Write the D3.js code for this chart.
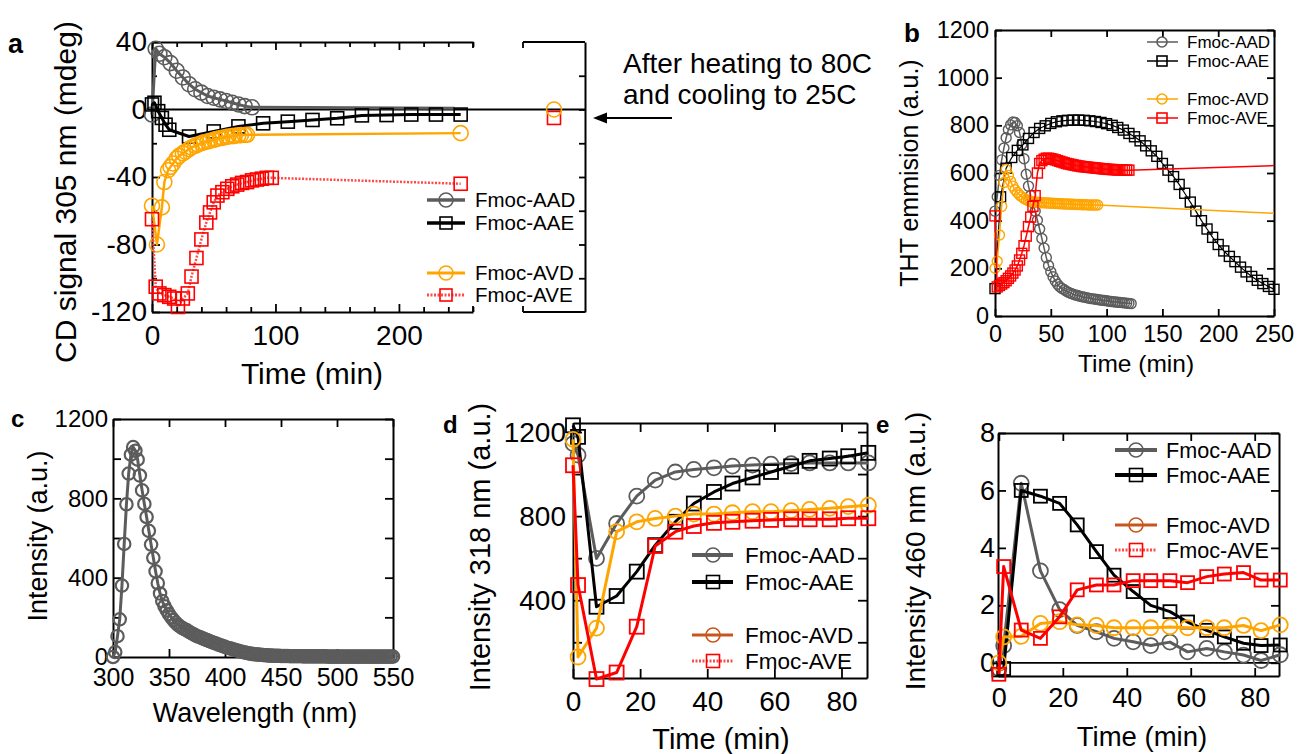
<!DOCTYPE html>
<html>
<head>
<meta charset="utf-8">
<script src="https://cdn.jsdelivr.net/npm/d3@7"></script>
<style>
  html, body { margin: 0; padding: 0; background: #fff; }
  svg { display: block; }
</style>
</head>
<body>
<svg id="fig" width="1297" height="754"></svg>
<script>
// ---------------- data ----------------
// (a) CD signal at 305 nm (mdeg) vs time (min)
const aadTimeA = [0, 3, 6, 10, 15, 20, 25, 30, 35, 40, 45, 50, 55, 60, 65, 70, 75, 81];
const aadCdA   = [-3, 36, 33, 31, 27.5, 23, 19, 15, 12, 10, 8, 7, 6, 5, 4, 3, 2, 1.3];
const aadTailA = [[245, 0.7]];
const aaeTimeA = [0, 2, 5, 8, 11, 14, 30, 50, 70, 90, 110, 130, 150, 170, 190, 210, 230, 250];
const aaeCdA   = [3, 4, -1, -5, -9, -12, -16, -13, -10, -8.2, -7.2, -6.2, -5.2, -3.5, -3.3, -3, -3, -3];
const avdTimeA = [0, 4, 8, 10, 13, 15, 17, 20, 22, 25, 27, 30, 32, 35, 37, 40, 42, 45, 47, 50, 52, 55, 57, 60, 62, 65, 67, 70, 72, 75, 77, 250];
const avdCdA   = [-57, -80, -58, -43, -36, -34, -32, -29, -27.5, -26, -25, -23.5, -22.5, -21.5, -20.8, -20, -19.5, -19, -18.5, -18, -17.5, -17, -16.8, -16.3, -16, -15.8, -15.6, -15.3, -15.2, -15.1, -15, -14];
const aveTimeA = [0, 3, 6, 10, 14, 18, 21, 25, 29, 32, 36, 40, 44, 47, 50, 53, 57, 61, 65, 69, 73, 77, 81, 85, 89, 93, 97, 250];
const aveCdA   = [-65, -105, -109, -110, -111, -112, -117, -112, -109, -99, -88, -77, -67, -61, -55, -51, -49, -47, -45.5, -44.5, -43.5, -43, -42, -41.5, -41, -40.5, -40.5, -44];
// after heating to 80C and cooling to 25C
const avdAfterA = 0;
const aveAfterA = -5;

// (b) ThT emission (a.u.) vs time (min)
const aadTimeB = d3.range(0, 123, 2);
const aadThtB = [440, 500, 590, 655, 705, 748, 782, 802, 814, 812, 798, 770, 720, 660, 595, 545, 505, 475, 440, 402,
  365, 325, 285, 245, 212, 186, 165, 147, 133, 123, 116, 110, 104, 99, 95, 91, 88, 86, 83, 81,
  79, 77, 75, 73, 72, 70, 69, 67, 66, 65, 64, 62, 61, 60, 59, 58, 57, 56, 55, 54, 53, 52];
const aaeTimeB = d3.range(0, 251, 5);
const aaeThtB = [115, 500, 620, 665, 695, 718, 745, 770, 787, 798, 808, 815, 819, 821, 822, 822, 821, 819, 816, 812,
  807, 800, 791, 780, 766, 752, 735, 714, 693, 670, 640, 612, 585, 552, 515, 478, 440, 400, 365, 330,
  300, 273, 250, 228, 205, 185, 166, 150, 136, 124, 112];
const avdTimeB = d3.range(0, 93, 2);
const avdThtB = [200, 230, 340, 460, 560, 615, 590, 565, 545, 530, 518, 508, 500, 493, 488, 484, 481, 479, 478, 477,
  476, 475, 475, 474, 474, 473, 473, 472, 472, 471, 471, 470, 470, 470, 469, 469, 468, 468, 468, 467,
  467, 467, 466, 466, 466, 466, 466];
const avdTailB = [[250, 431]];
const aveTimeB = d3.range(0, 121, 2);
const aveThtB = [420, 122, 128, 134, 140, 148, 158, 168, 180, 193, 210, 235, 263, 295, 335, 375, 415, 460, 505, 600,
  640, 652, 658, 662, 662, 660, 658, 655, 652, 649, 646, 643, 640, 638, 636, 634, 632, 630, 629, 627,
  626, 625, 624, 623, 622, 621, 620, 619, 618, 617, 616, 615, 615, 614, 614, 613, 613, 613, 612, 612, 612];
const aveTailB = [[250, 631]];

// (c) Fmoc-AAD emission spectrum, sampled every 2 nm
const wavelengthC = d3.range(300, 551, 2);
const intensityC = [0, 25, 105, 190, 360, 570, 770, 925, 1020, 1058, 1040, 995, 915, 840, 772, 706, 636, 567, 500, 432,
  372, 320, 282, 256, 235, 216, 200, 186, 173, 162, 153, 146, 140, 134, 127, 120, 114, 108, 103, 99,
  94, 89, 85, 80, 76, 72, 68, 63, 59, 55, 51, 47, 44, 41, 38, 34, 31, 28, 25, 22,
  20, 17, 16, 14, 13, 12, 11, 10, 9, 8, 7,
  7, 6, 6, 6, 5, 5, 5, 5, 4, 4, 4, 4, 4, 4, 3, 3, 3, 3, 3, 3, 3, 3, 3, 3, 3,
  2, 2, 2, 2, 2, 2, 2, 2, 2, 2, 2, 2, 2, 2, 2, 2, 2, 2, 2, 2, 2, 2, 2, 2, 2, 2, 2, 2, 2, 2];

// (d) intensity at 318 nm and (e) intensity at 460 nm, shared time points (min)
const timeDE = [0, 1.5, 7, 13, 19, 24.5, 30.5, 36, 42, 47.5, 53.5, 59, 65, 70.5, 76.5, 82, 88];
const aadD = [1145, 1090, 599, 765, 895, 971, 1010, 1022, 1030, 1038, 1043, 1047, 1050, 1053, 1053, 1053, 1053];
const aaeD = [1232, 1177, 369, 420, 536, 662, 773, 860, 915, 955, 984, 1010, 1037, 1063, 1074, 1085, 1101];
const avdD = [1165, 130, 267, 726, 773, 789, 800, 810, 810, 816, 821, 821, 826, 832, 837, 845, 852];
const aveD = [1042, 472, 25, 56, 274, 658, 726, 753, 768, 773, 778, 782, 785, 785, 785, 790, 790];
const aadE = [-0.2, 0.6, 6.25, 3.2, 1.85, 1.3, 1.08, 0.85, 0.73, 0.6, 0.72, 0.38, 0.5, 0.38, 0.27, 0.08, 0.28];
const aaeE = [-0.25, -0.2, 6.0, 5.8, 5.55, 4.8, 3.87, 3.05, 2.48, 2.0, 1.78, 1.42, 1.13, 0.9, 0.68, 0.6, 0.62];
const avdE = [0.0, 0.9, 0.92, 1.37, 1.43, 1.32, 1.3, 1.22, 1.22, 1.22, 1.25, 1.22, 1.22, 1.22, 1.3, 1.12, 1.32];
const aveE = [-0.4, 3.35, 1.14, 0.85, 1.6, 2.54, 2.71, 2.71, 2.86, 2.86, 2.86, 2.79, 3.0, 3.09, 3.14, 2.88, 2.88];

const seriesNames = ["Fmoc-AAD", "Fmoc-AAE", "Fmoc-AVD", "Fmoc-AVE"];

// ---------------- helpers ----------------
const FONT = "'Liberation Sans', Arial, Helvetica, sans-serif";
const GRAY = "#5c5c5c", BLACK = "#000", ORANGE = "#ffa500", RED = "#ff0000", BROWN = "#c8561c", PINK = "#ff4a4a";
const svg = d3.select("#fig").attr("font-family", FONT);

function panel(box, xDom, yDom) {
  return Object.assign({}, box, {
    x: d3.scaleLinear().domain(xDom).range([box.left, box.right]),
    y: d3.scaleLinear().domain(yDom).range([box.bottom, box.top]),
    g: svg.append("g")
  });
}

function axis(P, side, ticks, o) {
  const horiz = side === "bottom" || side === "top";
  const sc = o.scale || (horiz ? P.x : P.y);
  const make = { bottom: d3.axisBottom, top: d3.axisTop, left: d3.axisLeft, right: d3.axisRight }[side];
  const gen = make(sc).tickValues(ticks).tickSizeInner(-o.len).tickSizeOuter(0)
    .tickPadding(o.pad || 0)
    .tickFormat(o.labels ? (d => String(d)) : () => "");
  const pos = { bottom: `translate(0,${P.bottom})`, top: `translate(0,${P.top})`,
                left: `translate(${P.left},0)`, right: `translate(${P.right},0)` }[side];
  const a = P.g.append("g").attr("transform", pos).call(gen);
  a.attr("font-family", null).attr("font-size", null);
  a.select(".domain").attr("stroke", "#000").attr("stroke-width", 2);
  a.selectAll(".tick line").attr("stroke", "#000").attr("stroke-width", 1.8);
  a.selectAll(".tick text").attr("font-size", o.fs || 20).attr("fill", "#000");
  if (o.noDomain) a.select(".domain").remove();
  return a;
}

function markers(g, pts, o) {
  if (o.marker === "circle") {
    g.append("g").selectAll("circle").data(pts).join("circle")
      .attr("cx", d => d[0]).attr("cy", d => d[1]).attr("r", o.size)
      .attr("fill", "none").attr("stroke", o.mcolor || o.color).attr("stroke-width", o.mw || 1.6);
  } else {
    g.append("g").selectAll("rect").data(pts).join("rect")
      .attr("x", d => d[0] - o.size).attr("y", d => d[1] - o.size)
      .attr("width", 2 * o.size).attr("height", 2 * o.size)
      .attr("fill", "none").attr("stroke", o.mcolor || o.color).attr("stroke-width", o.mw || 1.6);
  }
}

function series(P, xs, ys, o) {
  const pts = xs.map((t, i) => [t, ys[i]]);
  const all = pts.concat(o.tail || []);
  const line = d3.line().x(d => P.x(d[0])).y(d => P.y(d[1]));
  P.g.append("path").attr("d", line(all)).attr("fill", "none")
    .attr("stroke", o.color).attr("stroke-width", o.lw)
    .attr("stroke-dasharray", o.dash || null).attr("stroke-linejoin", "round");
  markers(P.g, pts.map(d => [P.x(d[0]), P.y(d[1])]), o);
}

function legend(P, items, o) {
  items.forEach((it, i) => {
    const y = o.rows[i];
    P.g.append("line").attr("x1", o.x1).attr("x2", o.x2).attr("y1", y).attr("y2", y)
      .attr("stroke", it.color).attr("stroke-width", it.lw).attr("stroke-dasharray", it.dash || null);
    markers(P.g, [[o.mx, y]], it);
    P.g.append("text").attr("x", o.tx).attr("y", y).attr("dy", "0.36em")
      .attr("font-size", o.fs).attr("fill", "#000").text(seriesNames[i]);
  });
}

function title(x, y, txt, fs, rotate) {
  svg.append("text").attr("x", x).attr("y", y).attr("font-size", fs).attr("fill", "#000")
    .attr("text-anchor", "middle")
    .attr("transform", rotate ? `rotate(-90,${x},${y})` : null).text(txt);
}

function tag(x, y, txt, fs) {
  svg.append("text").attr("x", x).attr("y", y).attr("font-size", fs)
    .attr("font-weight", "bold").attr("fill", "#000").text(txt);
}

// ---------------- panel a ----------------
const Pa = panel({ left: 152, right: 473, top: 42, bottom: 312 }, [0, 260], [-120, 40]);
axis(Pa, "bottom", [0, 100, 200], { len: 8, pad: 13, fs: 28, labels: true });
axis(Pa, "bottom", [20, 40, 60, 80, 120, 140, 160, 180, 220, 240, 260], { len: 5, noDomain: true });
axis(Pa, "top", [0, 100, 200], { len: 8 });
axis(Pa, "top", [20, 40, 60, 80, 120, 140, 160, 180, 220, 240, 260], { len: 5, noDomain: true });
axis(Pa, "left", [-120, -80, -40, 0, 40], { len: 8, pad: 5, fs: 28, labels: true });
axis(Pa, "left", [-100, -60, -20, 20], { len: 5, noDomain: true });

// broken right-hand segment showing the sample after the heat/cool cycle
const after = d3.scalePoint().domain(["after"]).range([523, 585]).padding(0.5);
const Pa2 = { left: 523, right: 585, top: 42, bottom: 312, g: Pa.g };
Pa.g.append("line").attr("x1", 523).attr("x2", 585).attr("y1", 42).attr("y2", 42).attr("stroke", "#000").attr("stroke-width", 2);
Pa.g.append("line").attr("x1", 523).attr("x2", 585).attr("y1", 312).attr("y2", 312).attr("stroke", "#000").attr("stroke-width", 2);
axis(Pa2, "right", [-100, -80, -60, -40, -20, 0, 20], { len: 6, scale: Pa.y });
[[473, 42, 48], [473, 312, 306], [523, 42, 48], [523, 312, 306]].forEach(s =>
  Pa.g.append("line").attr("x1", s[0]).attr("x2", s[0]).attr("y1", s[1]).attr("y2", s[2])
    .attr("stroke", "#000").attr("stroke-width", 1.8));
// zero line across both segments
Pa.g.append("line").attr("x1", 152).attr("x2", 585).attr("y1", Pa.y(0)).attr("y2", Pa.y(0))
  .attr("stroke", "#000").attr("stroke-width", 2);

series(Pa, aadTimeA, aadCdA, { color: GRAY, lw: 3, marker: "circle", size: 7.5, tail: aadTailA });
series(Pa, aaeTimeA, aaeCdA, { color: BLACK, lw: 3, marker: "square", size: 6.5 });
series(Pa, avdTimeA, avdCdA, { color: ORANGE, lw: 2.5, marker: "circle", size: 7.5 });
series(Pa, aveTimeA, aveCdA, { color: PINK, lw: 2.5, dash: "2,1.5", marker: "square", size: 6.5, mcolor: RED });
markers(Pa.g, [[after("after"), Pa.y(aveAfterA)]], { marker: "square", size: 6.5, color: RED });
markers(Pa.g, [[after("after"), Pa.y(avdAfterA)]], { marker: "circle", size: 7.5, color: ORANGE });

legend(Pa, [
  { color: GRAY, lw: 3.5, marker: "circle", size: 7 },
  { color: BLACK, lw: 3.5, marker: "square", size: 6 },
  { color: ORANGE, lw: 3, marker: "circle", size: 7 },
  { color: PINK, lw: 3, dash: "2,1.5", marker: "square", size: 6, mcolor: RED }
], { rows: [200, 223, 273, 295], x1: 427, x2: 465, mx: 446, tx: 475, fs: 20.5 });

// annotation and arrow
svg.append("text").attr("x", 623).attr("y", 73).attr("font-size", 28).text("After heating to 80C");
svg.append("text").attr("x", 623).attr("y", 104).attr("font-size", 28).text("and cooling to 25C");
svg.append("line").attr("x1", 672).attr("x2", 603).attr("y1", 118).attr("y2", 118).attr("stroke", "#000").attr("stroke-width", 2);
svg.append("path").attr("d", "M593,118 L607,112.5 L607,123.5 Z").attr("fill", "#000");

title(76, 192, "CD signal 305 nm (mdeg)", 30, true);
title(312, 384, "Time (min)", 30, false);
tag(8, 53, "a", 27);

// ---------------- panel b ----------------
const Pb = panel({ left: 995, right: 1274, top: 30, bottom: 316 }, [0, 250], [0, 1200]);
const bx = [0, 50, 100, 150, 200, 250], by = [0, 200, 400, 600, 800, 1000, 1200];
axis(Pb, "bottom", bx, { len: 7, pad: 9, fs: 23.5, labels: true });
axis(Pb, "top", bx, { len: 7 });
axis(Pb, "left", by, { len: 7, pad: 6, fs: 23.5, labels: true });
axis(Pb, "right", by, { len: 7 });
series(Pb, aadTimeB, aadThtB, { color: GRAY, lw: 1.5, marker: "circle", size: 5, mw: 1.4 });
series(Pb, aaeTimeB, aaeThtB, { color: BLACK, lw: 1.2, marker: "square", size: 5, mw: 1.4 });
series(Pb, avdTimeB, avdThtB, { color: ORANGE, lw: 1.5, marker: "circle", size: 5, mw: 1.4, tail: avdTailB });
series(Pb, aveTimeB, aveThtB, { color: RED, lw: 1.5, marker: "square", size: 5, mw: 1.4, tail: aveTailB });
legend(Pb, [
  { color: GRAY, lw: 1.5, marker: "circle", size: 5 },
  { color: BLACK, lw: 1.5, marker: "square", size: 5 },
  { color: ORANGE, lw: 1.5, marker: "circle", size: 5 },
  { color: RED, lw: 1.5, marker: "square", size: 5 }
], { rows: [42, 61, 99, 118], x1: 1147, x2: 1178, mx: 1162, tx: 1187, fs: 17 });
title(918, 173, "THT emmision (a.u.)", 25, true);
title(1136, 372, "Time (min)", 24.5, false);
tag(904, 42, "b", 26);

// ---------------- panel c ----------------
const Pc = panel({ left: 113, right: 393, top: 419, bottom: 657 }, [300, 550], [0, 1200]);
const cx = [300, 350, 400, 450, 500, 550];
axis(Pc, "bottom", cx, { len: 8, pad: 11, fs: 25, labels: true });
axis(Pc, "top", cx, { len: 8 });
axis(Pc, "left", [0, 400, 800, 1200], { len: 8, pad: 5, fs: 24, labels: true });
axis(Pc, "left", [200, 600, 1000], { len: 8, noDomain: true });
axis(Pc, "right", [0, 200, 400, 600, 800, 1000, 1200], { len: 8 });
series(Pc, wavelengthC, intensityC, { color: GRAY, lw: 3, marker: "circle", size: 6.2, mw: 2.2 });
title(47, 536, "Intensity (a.u.)", 27, true);
title(255, 722, "Wavelength (nm)", 27, false);
tag(11, 427, "c", 24);

// ---------------- panel d ----------------
const Pd = panel({ left: 573, right: 867, top: 423, bottom: 678 }, [0, 87.6], [30, 1243]);
const tx = [0, 20, 40, 60, 80];
axis(Pd, "bottom", tx, { len: 9, pad: 13, fs: 28, labels: true });
axis(Pd, "top", tx, { len: 9 });
axis(Pd, "left", [400, 800, 1200], { len: 9, pad: 7, fs: 28, labels: true });
axis(Pd, "left", [200, 600, 1000], { len: 9, noDomain: true });
axis(Pd, "right", [200, 400, 600, 800, 1000, 1200], { len: 9 });
series(Pd, timeDE, aadD, { color: GRAY, lw: 3, marker: "circle", size: 7.5, mw: 1.8 });
series(Pd, timeDE, aaeD, { color: BLACK, lw: 3, marker: "square", size: 7, mw: 1.8 });
series(Pd, timeDE, avdD, { color: ORANGE, lw: 3, marker: "circle", size: 7.5, mw: 1.8 });
series(Pd, timeDE, aveD, { color: RED, lw: 3, marker: "square", size: 7, mw: 1.8 });
legend(Pd, [
  { color: GRAY, lw: 4, marker: "circle", size: 7 },
  { color: BLACK, lw: 4, marker: "square", size: 6.5 },
  { color: BROWN, lw: 3, marker: "circle", size: 7 },
  { color: PINK, lw: 3, dash: "2,1.5", marker: "square", size: 6.5, mcolor: RED }
], { rows: [555, 582, 635, 661], x1: 692, x2: 733, mx: 713, tx: 745, fs: 22.5 });
title(490, 547, "Intensity 318 nm (a.u.)", 29, true);
title(721, 749, "Time (min)", 29, false);
tag(443, 433, "d", 24);

// ---------------- panel e ----------------
const Pe = panel({ left: 998, right: 1279, top: 433, bottom: 676 }, [-0.27, 87.6], [-0.46, 8]);
axis(Pe, "bottom", tx, { len: 8, pad: 12, fs: 27, labels: true });
axis(Pe, "top", tx, { len: 8 });
axis(Pe, "left", [0, 2, 4, 6, 8], { len: 8, pad: 3, fs: 27, labels: true });
axis(Pe, "right", [0, 2, 4, 6, 8], { len: 8 });
Pe.g.append("line").attr("x1", Pe.left).attr("x2", Pe.right).attr("y1", Pe.y(0)).attr("y2", Pe.y(0))
  .attr("stroke", "#000").attr("stroke-width", 1.8);
series(Pe, timeDE, aadE, { color: GRAY, lw: 3, marker: "circle", size: 7.5, mw: 1.8 });
series(Pe, timeDE, aaeE, { color: BLACK, lw: 3, marker: "square", size: 6.5, mw: 1.8 });
series(Pe, timeDE, avdE, { color: ORANGE, lw: 3, marker: "circle", size: 7.5, mw: 1.8 });
series(Pe, timeDE, aveE, { color: RED, lw: 3, marker: "square", size: 6.5, mw: 1.8 });
legend(Pe, [
  { color: GRAY, lw: 4, marker: "circle", size: 7 },
  { color: BLACK, lw: 4, marker: "square", size: 6.5 },
  { color: BROWN, lw: 3, marker: "circle", size: 7 },
  { color: PINK, lw: 3, dash: "2,1.5", marker: "square", size: 6.5, mcolor: RED }
], { rows: [450, 475, 525, 550], x1: 1115, x2: 1157, mx: 1136, tx: 1166, fs: 21.6 });
title(925, 551, "Intensity 460 nm (a.u.)", 28, true);
title(1142, 746, "Time (min)", 27.5, false);
tag(876, 433, "e", 24);
</script>
</body>
</html>
